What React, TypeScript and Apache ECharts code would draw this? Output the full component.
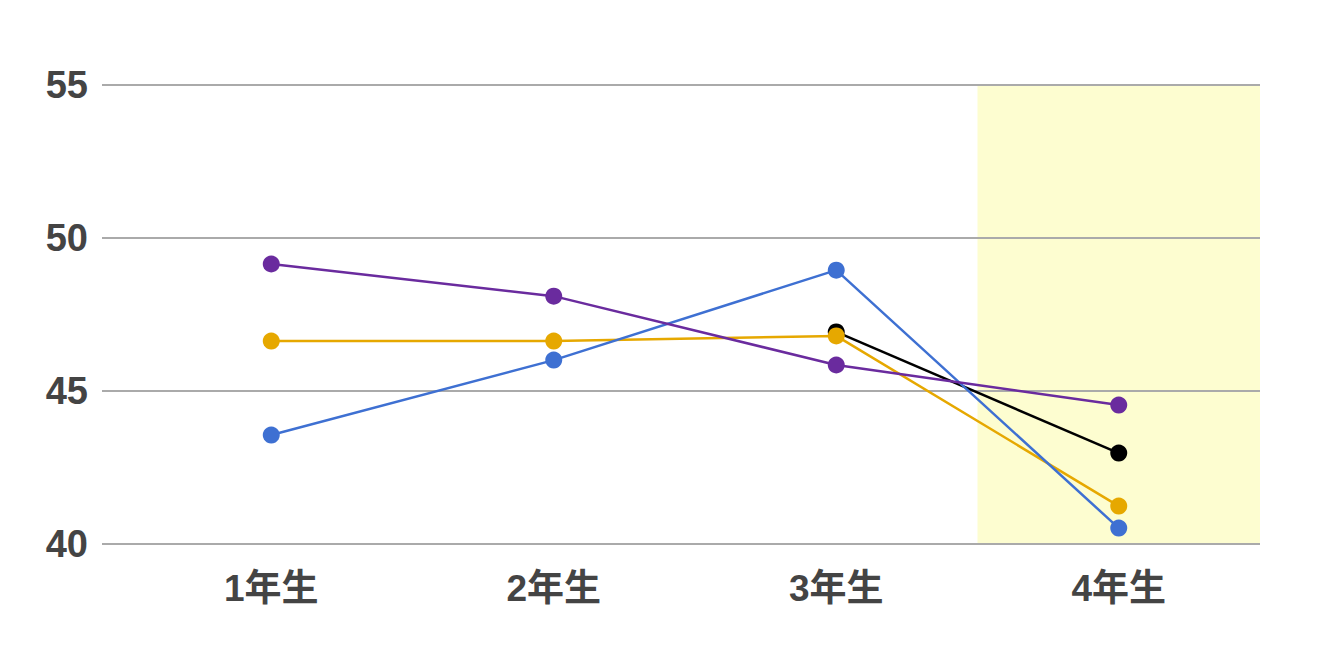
import React, { useEffect, useRef } from "react";
import * as echarts from "echarts";

const categories = ["1年生", "2年生", "3年生", "4年生"];
const yTicks = { min: 40, max: 55, interval: 5 };
const blackSeries = [null, null, 46.93, 42.97];
const orangeSeries = [46.63, 46.63, 46.8, 41.24];
const blueSeries = [43.56, 46.01, 48.95, 40.52];
const purpleSeries = [49.15, 48.1, 45.85, 44.54];
const highlight = [null, null, null, 55];

const FONT = "'Liberation Sans', 'Noto Sans CJK JP', sans-serif";

function lineSeries(name: string, data: (number | null)[], color: string) {
  return {
    name,
    type: "line",
    xAxisIndex: 1,
    yAxisIndex: 1,
    data,
    symbol: "circle",
    symbolSize: 17,
    showSymbol: true,
    connectNulls: false,
    lineStyle: { color, width: 2.5 },
    itemStyle: { color },
    z: 3,
  };
}

export default function App() {
  const ref = useRef<HTMLDivElement>(null);
  useEffect(() => {
    if (!ref.current) return;
    const chart = echarts.init(ref.current, undefined, { renderer: "svg" });
    chart.setOption({
      animation: false,
      backgroundColor: "#ffffff",
      grid: [
        { left: 102, right: 60, top: 85, bottom: 116 },
        { left: 130, right: 60, top: 85, bottom: 116 },
      ],
      xAxis: [
        { type: "value", gridIndex: 0, show: false, min: 0, max: 1 },
        {
          type: "category",
          gridIndex: 1,
          data: categories,
          boundaryGap: true,
          axisLine: { show: false },
          axisTick: { show: false },
          splitLine: { show: false },
          axisLabel: {
            color: "#444444",
            fontSize: 37,
            fontWeight: "bold",
            fontFamily: FONT,
            margin: 26,
          },
        },
      ],
      yAxis: [
        {
          type: "value",
          gridIndex: 0,
          min: yTicks.min,
          max: yTicks.max,
          interval: yTicks.interval,
          axisLine: { show: false },
          axisTick: { show: false },
          splitLine: { show: true, lineStyle: { color: "#aaaaaa", width: 2 } },
          axisLabel: {
            color: "#444444",
            fontSize: 38,
            fontWeight: "bold",
            fontFamily: FONT,
            margin: 14,
          },
        },
        {
          type: "value",
          gridIndex: 1,
          min: yTicks.min,
          max: yTicks.max,
          interval: yTicks.interval,
          show: false,
          splitLine: { show: false },
        },
      ],
      series: [
        {
          name: "highlight",
          type: "bar",
          xAxisIndex: 1,
          yAxisIndex: 1,
          data: highlight,
          barWidth: "100%",
          barGap: "-100%",
          itemStyle: { color: "#fdfdd0" },
          silent: true,
          z: -1,
        },
        lineSeries("black", blackSeries, "#000000"),
        lineSeries("orange", orangeSeries, "#e6a800"),
        lineSeries("blue", blueSeries, "#3e70d2"),
        lineSeries("purple", purpleSeries, "#6a2b9e"),
      ],
    });
    return () => chart.dispose();
  }, []);
  return (
    <div
      ref={ref}
      style={{ position: "fixed", left: 0, top: 0, width: 1320, height: 660 }}
    />
  );
}
